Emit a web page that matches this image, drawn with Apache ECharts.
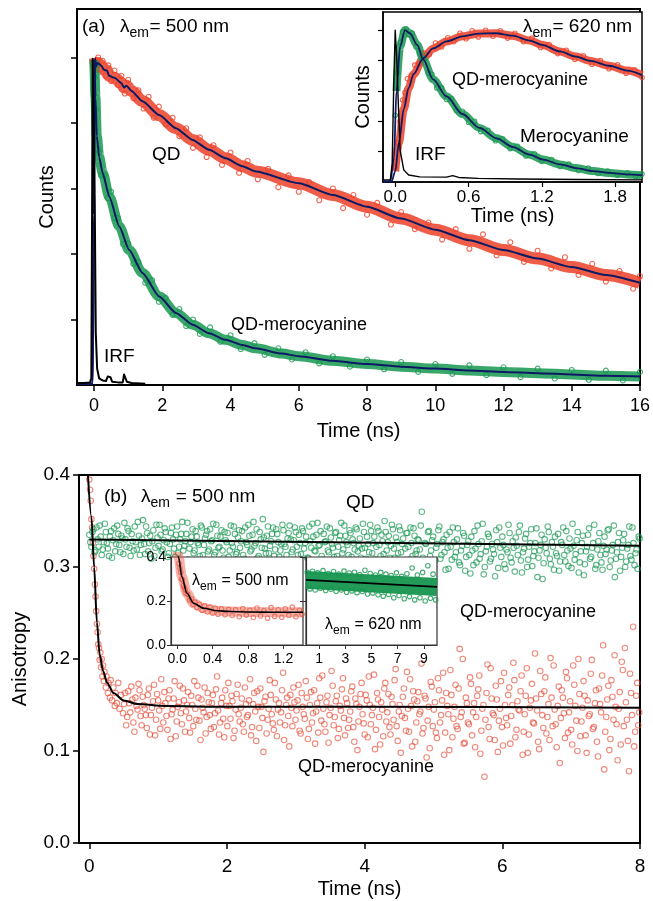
<!DOCTYPE html>
<html>
<head>
<meta charset="utf-8">
<script src="https://cdn.jsdelivr.net/npm/echarts@6/dist/echarts.min.js"></script>
<style>
html, body { margin: 0; padding: 0; background: #fff; }
#chart { width: 653px; height: 901px; }
</style>
</head>
<body>
<div id="chart"></div>
<script>
// (a) decays at 500 nm, counts in tick units (5 = peak)
const irfMain = [[-0.5,.03],[-0.3,.03],[-0.12,.04],[-0.08,.1],[-0.06,2.4],[-0.04,4.98],[-0.01,4.98],[0.02,2.8],[0.05,.8],[0.09,.25],[0.15,.1],[0.25,.07],[0.35,.06],[0.4,.13],[0.44,.15],[0.48,.12],[0.53,.05],[0.7,.04],[0.84,.04],[0.88,.16],[0.92,.15],[0.96,.05],[1.1,.03],[1.5,.02]];
const qdFit = [[-0.5,.02],[-0.04,.02],[0,2.6],[0.03,4.99],[0.06,4.86],[0.1,4.92],[0.2,4.88],[0.3,4.81],[0.38,4.8],[0.44,4.72],[0.6,4.69],[0.8,4.61],[0.88,4.54],[0.95,4.57],[1.1,4.49],[1.42,4.33],[1.91,4.12],[2.4,3.92],[2.89,3.74],[3.37,3.59],[3.86,3.46],[4.35,3.34],[4.74,3.26],[6,3.08],[7,2.9],[8,2.72],[9,2.54],[10,2.37],[11,2.21],[12,2.06],[13,1.93],[14,1.8],[15,1.68],[16,1.56]];
const qdPts = [[0.05,4.95],[0.12,5.0],[0.18,4.82],[0.25,4.95],[0.33,4.72],[0.42,4.88],[0.5,4.64],[0.6,4.8],[0.7,4.58],[0.8,4.72],[0.9,4.45],[1.0,4.66],[1.15,4.38],[1.3,4.5],[1.45,4.22],[1.6,4.4],[1.75,4.08],[1.9,4.25],[2.1,3.98],[2.3,4.08],[2.5,3.8],[2.7,3.92],[2.9,3.62],[3.1,3.78],[3.3,3.48],[3.5,3.66],[3.75,3.36],[4.0,3.55],[4.25,3.24],[4.5,3.42],[4.8,3.14],[5.1,3.3],[5.4,3.02],[5.7,3.2],[6.0,2.95],[6.3,3.1],[6.6,2.82],[7.0,3.0],[7.3,2.7],[7.6,2.9],[8.0,2.6],[8.3,2.78],[8.7,2.45],[9.0,2.64],[9.4,2.38],[9.8,2.48],[10.2,2.22],[10.6,2.38],[11.0,2.08],[11.4,2.3],[11.8,1.98],[12.2,2.18],[12.6,1.88],[13.0,2.05],[13.4,1.78],[13.8,1.95],[14.2,1.68],[14.6,1.85],[15.0,1.58],[15.4,1.74],[15.8,1.47],[16.0,1.66]];
const qdmFit = [[-0.5,.02],[-0.04,.02],[-0.01,2.6],[0.01,4.96],[0.04,4.4],[0.08,3.8],[0.15,3.48],[0.25,3.24],[0.45,2.87],[0.74,2.42],[1.03,2.06],[1.42,1.71],[1.91,1.35],[2.4,1.1],[2.89,.92],[3.37,.79],[3.86,.69],[4.35,.61],[4.74,.56],[5.5,.48],[6,.44],[7,.37],[8,.32],[9,.28],[10,.25],[11,.22],[12,.2],[13,.18],[14,.16],[15,.14],[16,.13]];
const qdmPts = [[0.02,4.7],[0.05,4.2],[0.1,3.6],[0.15,3.55],[0.2,3.2],[0.3,3.2],[0.4,2.85],[0.5,2.95],[0.6,2.55],[0.7,2.55],[0.85,2.15],[1.0,2.16],[1.15,1.85],[1.3,1.88],[1.5,1.56],[1.7,1.6],[1.9,1.27],[2.1,1.33],[2.3,1.07],[2.5,1.16],[2.7,.9],[2.9,1.0],[3.1,.78],[3.4,.88],[3.7,.66],[4.0,.76],[4.3,.55],[4.7,.64],[5.0,.46],[5.4,.56],[5.8,.39],[6.2,.5],[6.6,.33],[7.0,.44],[7.5,.28],[8.0,.39],[8.5,.24],[9.0,.35],[9.5,.2],[10.0,.32],[10.5,.17],[11.0,.3],[11.5,.15],[12,.27],[12.5,.12],[13,.25],[13.5,.1],[14,.23],[14.5,.08],[15,.22],[15.5,.07],[16,.2]];

// inset (a), 620 nm
const irfInset = [[-0.1,.07],[-0.04,.07],[-0.025,.6],[-0.012,3.2],[0,5.0],[0.012,4.1],[0.027,2.4],[0.04,1.05],[0.07,.4],[0.11,.23],[0.2,.17],[0.42,.16],[0.47,.21],[0.52,.15],[0.68,.12],[1.0,.1],[1.5,.08],[2.02,.07]];
const meroFit = [[-0.1,.02],[-0.04,.03],[-0.01,.8],[0.01,3.0],[0.04,4.47],[0.08,5.0],[0.12,4.9],[0.18,4.52],[0.23,4.03],[0.31,3.38],[0.42,2.82],[0.55,2.24],[0.69,1.78],[0.83,1.44],[0.96,1.16],[1.1,.9],[1.21,.74],[1.35,.58],[1.48,.46],[1.62,.36],[1.75,.3],[1.9,.25],[2.02,.22]];
const meroPts = [[0,2.2],[0.02,3.6],[0.04,4.6],[0.06,4.95],[0.09,5.05],[0.11,4.85],[0.14,4.9],[0.17,4.45],[0.2,4.25],[0.24,4.05],[0.27,3.6],[0.3,3.55],[0.34,3.1],[0.38,3.1],[0.42,2.72],[0.46,2.74],[0.5,2.36],[0.55,2.33],[0.6,1.97],[0.65,2.0],[0.7,1.66],[0.76,1.7],[0.82,1.36],[0.88,1.42],[0.94,1.1],[1.0,1.18],[1.07,.86],[1.14,.93],[1.2,.68],[1.28,.74],[1.35,.51],[1.42,.59],[1.5,.38],[1.58,.46],[1.66,.28],[1.74,.36],[1.82,.22],[1.9,.3],[1.97,.19],[2.02,.26]];
const qdm620Fit = [[-0.1,.02],[-0.03,.02],[0,.35],[0.03,1.3],[0.07,2.4],[0.11,3.1],[0.15,3.55],[0.23,4.08],[0.31,4.4],[0.42,4.63],[0.55,4.8],[0.69,4.89],[0.82,4.9],[0.96,4.82],[1.1,4.66],[1.2,4.52],[1.35,4.3],[1.47,4.14],[1.6,3.99],[1.75,3.83],[1.9,3.67],[2.02,3.52]];
const qdm620Pts = [[0,.5],[0.02,1.3],[0.04,2.0],[0.06,2.7],[0.08,2.95],[0.1,3.4],[0.13,3.5],[0.16,3.85],[0.2,3.9],[0.24,4.25],[0.28,4.2],[0.33,4.58],[0.38,4.45],[0.43,4.75],[0.48,4.62],[0.53,4.9],[0.58,4.72],[0.63,4.98],[0.68,4.78],[0.74,5.0],[0.8,4.8],[0.86,4.98],[0.92,4.74],[0.98,4.9],[1.05,4.62],[1.12,4.74],[1.19,4.43],[1.26,4.53],[1.33,4.23],[1.4,4.34],[1.47,4.04],[1.54,4.16],[1.61,3.88],[1.68,4.0],[1.75,3.73],[1.82,3.86],[1.89,3.58],[1.96,3.7],[2.02,3.44]];

// (b) anisotropy at 500 nm
const qdAnisFit = [[0,.330],[8,.323]];
const qdAnisPts = [[0,.335],[.03,.322],[.06,.341],[.09,.318],[.12,.33],[.15,.345],[.18,.313],[.21,.327],[.24,.338],[.27,.32],[.3,.333],[.33,.31],[.36,.342],[.39,.325],[.42,.336],[.45,.316],[.48,.331],[.51,.348],[.54,.322],[.57,.339],[.6,.312],[.63,.328],[.66,.344],[.69,.319],[.72,.334],[.75,.324],[.78,.351],[.81,.314],[.84,.337],[.87,.326],[.9,.309],[.93,.34],[.96,.321],[.99,.332],[1.02,.346],[1.05,.317],[1.08,.329],[1.11,.338],[1.14,.311],[1.17,.325],[1.2,.343],[1.23,.32],[1.26,.335],[1.29,.315],[1.32,.33],[1.35,.349],[1.38,.323],[1.41,.336],[1.44,.308],[1.47,.327],[1.5,.341],[1.53,.318],[1.56,.333],[1.59,.324],[1.62,.345],[1.65,.313],[1.68,.331],[1.71,.339],[1.74,.319],[1.77,.328],[1.8,.347],[1.83,.316],[1.86,.334],[1.89,.322],[1.92,.34],[1.95,.31],[1.98,.329],[2.01,.337],[2.04,.318],[2.07,.326],[2.1,.344],[2.13,.314],[2.16,.332],[2.19,.321],[2.22,.339],[2.25,.309],[2.28,.327],[2.31,.346],[2.34,.317],[2.37,.335],[2.4,.323],[2.43,.341],[2.46,.312],[2.49,.33],[2.52,.352],[2.55,.32],[2.58,.334],[2.61,.315],[2.64,.328],[2.67,.343],[2.7,.319],[2.73,.336],[2.76,.311],[2.79,.325],[2.82,.34],[2.85,.322],[2.88,.331],[2.91,.345],[2.94,.316],[2.97,.329],[3,.338],[3.03,.313],[3.06,.326],[3.09,.342],[3.12,.32],[3.15,.333],[3.18,.31],[3.21,.328],[3.24,.347],[3.27,.318],[3.3,.335],[3.33,.323],[3.36,.339],[3.39,.308],[3.42,.327],[3.45,.344],[3.48,.316],[3.51,.332],[3.54,.321],[3.57,.337],[3.6,.312],[3.63,.329],[3.66,.348],[3.69,.319],[3.72,.334],[3.75,.324],[3.78,.34],[3.81,.311],[3.84,.326],[3.87,.343],[3.9,.317],[3.93,.331],[3.96,.32],[3.99,.338],[4.02,.309],[4.05,.325],[4.08,.346],[4.11,.315],[4.14,.333],[4.17,.322],[4.2,.339],[4.23,.312],[4.26,.328],[4.29,.35],[4.32,.318],[4.35,.334],[4.38,.323],[4.41,.341],[4.44,.31],[4.47,.327],[4.5,.344],[4.53,.316],[4.56,.331],[4.59,.32],[4.62,.337],[4.65,.308],[4.68,.326],[4.71,.342],[4.74,.314],[4.77,.33],[4.8,.319],[4.83,.36],[4.86,.305],[4.89,.325],[4.92,.338],[4.95,.312],[4.98,.329],[5.01,.3],[5.04,.321],[5.07,.34],[5.1,.309],[5.13,.327],[5.16,.316],[5.19,.335],[5.22,.298],[5.25,.322],[5.28,.343],[5.31,.311],[5.34,.33],[5.37,.305],[5.4,.318],[5.43,.337],[5.46,.296],[5.49,.324],[5.52,.313],[5.55,.333],[5.58,.302],[5.61,.32],[5.64,.345],[5.67,.309],[5.7,.328],[5.73,.292],[5.76,.317],[5.79,.336],[5.82,.306],[5.85,.325],[5.88,.314],[5.91,.34],[5.94,.299],[5.97,.321],[6,.333],[6.03,.303],[6.06,.319],[6.09,.346],[6.12,.31],[6.15,.328],[6.18,.295],[6.21,.323],[6.24,.338],[6.27,.307],[6.3,.316],[6.33,.331],[6.36,.3],[6.39,.322],[6.42,.341],[6.45,.312],[6.48,.326],[6.51,.289],[6.54,.318],[6.57,.335],[6.6,.304],[6.63,.321],[6.66,.344],[6.69,.309],[6.72,.327],[6.75,.297],[6.78,.315],[6.81,.336],[6.84,.306],[6.87,.324],[6.9,.313],[6.93,.339],[6.96,.301],[6.99,.32],[7.02,.347],[7.05,.308],[7.08,.329],[7.11,.294],[7.14,.317],[7.17,.334],[7.2,.303],[7.23,.322],[7.26,.342],[7.29,.311],[7.32,.326],[7.35,.298],[7.38,.319],[7.41,.337],[7.44,.305],[7.47,.323],[7.5,.314],[7.53,.34],[7.56,.3],[7.59,.318],[7.62,.345],[7.65,.309],[7.68,.327],[7.71,.296],[7.74,.321],[7.77,.336],[7.8,.306],[7.83,.324],[7.86,.312],[7.89,.343],[7.92,.302],[7.95,.319],[7.98,.333],
  [.015,.327],[.045,.338],[.075,.316],[.105,.343],[.135,.322],[.165,.333],[.195,.319],[.225,.347],[.255,.326],[.285,.312],[.315,.339],[.345,.329],[.375,.317],[.405,.345],[.435,.324],[.465,.334],[.495,.314],[.525,.33],[.555,.342],[.585,.321],[.615,.336],[.645,.318],[.675,.327],[.705,.349],[.735,.313],[.765,.331],[.795,.325],[.825,.344],[.855,.317],[.885,.334],[.915,.328],[.945,.312],[.975,.346],[1.005,.323],[1.035,.335],[1.065,.319],[1.095,.342],[1.125,.327],[1.155,.315],[1.185,.337],[1.215,.33],[1.245,.311],[1.275,.344],[1.305,.322],[1.335,.336],[1.365,.318],[1.395,.328],[1.425,.348],[1.455,.32],[1.485,.333],[1.515,.315],[1.545,.339],[1.575,.326],[1.605,.312],[1.635,.343],[1.665,.324],[1.695,.335],[1.725,.317],[1.755,.341],[1.785,.329],[1.815,.313],[1.845,.346],[1.875,.321],[1.905,.333],[1.935,.318],[1.965,.338],[1.995,.327],[2.025,.311],[2.055,.345],[2.085,.322],[2.115,.336],[2.145,.316],[2.175,.34],[2.205,.328],[2.235,.313],[2.265,.343],[2.295,.324],[2.325,.334],[2.355,.319],[2.385,.349],[2.415,.326],[2.445,.31],[2.475,.338],[2.505,.321],[2.535,.332],[2.565,.315],[2.595,.344],[2.625,.323],[2.655,.336],[2.685,.312],[2.715,.341],[2.745,.327],[2.775,.318],[2.805,.346],[2.835,.325],[2.865,.313],[2.895,.337],[2.925,.33],[2.955,.319],[2.985,.343],[3.015,.322],[3.045,.335],[3.075,.314],[3.105,.339],[3.135,.326],[3.165,.31],[3.195,.344],[3.225,.321],[3.255,.333],[3.285,.317],[3.315,.348],[3.345,.324],[3.375,.312],[3.405,.336],[3.435,.328],[3.465,.318],[3.495,.342],[3.525,.325],[3.555,.311],[3.585,.338],[3.615,.322],[3.645,.334],[3.675,.315],[3.705,.345],[3.735,.327],[3.765,.313],[3.795,.337],[3.825,.33],[3.855,.319],[3.885,.341],[3.915,.323],[3.945,.31],[3.975,.347],[4.005,.321],[4.035,.333],[4.065,.316],[4.095,.339],[4.125,.326],[4.155,.308],[4.185,.343],[4.215,.324],[4.245,.335],[4.275,.314],[4.305,.338],[4.335,.327],[4.365,.31],[4.395,.346],[4.425,.32],[4.455,.332],[4.485,.315],[4.515,.34],[4.545,.325],[4.575,.306],[4.605,.337],[4.635,.322],[4.665,.343],[4.695,.312],[4.725,.334],[4.755,.318],[4.785,.329],[4.815,.345],[4.845,.31],[4.875,.326],[4.905,.3],[4.935,.339],[4.965,.318],[4.995,.333],[5.025,.307],[5.055,.325],[5.085,.344],[5.115,.313],[5.145,.33],[5.175,.297],[5.205,.321],[5.235,.338],[5.265,.308],[5.295,.327],[5.325,.316],[5.355,.342],[5.385,.302],[5.415,.323],[5.445,.334],[5.475,.311],[5.505,.328],[5.535,.293],[5.565,.318],[5.595,.339],[5.625,.305],[5.655,.325],[5.685,.314],[5.715,.347],[5.745,.3],[5.775,.322],[5.805,.333],[5.835,.309],[5.865,.319],[5.895,.29],[5.925,.327],[5.955,.343],[5.985,.311],[6.015,.324],[6.045,.298],[6.075,.316],[6.105,.337],[6.135,.305],[6.165,.321],[6.195,.332],[6.225,.313],[6.255,.345],[6.285,.294],[6.315,.32],[6.345,.336],[6.375,.308],[6.405,.326],[6.435,.301],[6.465,.317],[6.495,.342],[6.525,.31],[6.555,.324],[6.585,.287],[6.615,.33],[6.645,.315],[6.675,.338],[6.705,.303],[6.735,.322],[6.765,.333],[6.795,.312],[6.825,.296],[6.855,.327],[6.885,.343],[6.915,.306],[6.945,.318],[6.975,.331],[7.005,.299],[7.035,.323],[7.065,.314],[7.095,.338],[7.125,.305],[7.155,.326],[7.185,.291],[7.215,.317],[7.245,.335],[7.275,.309],[7.305,.321],[7.335,.346],[7.365,.302],[7.395,.328],[7.425,.313],[7.455,.297],[7.485,.333],[7.515,.319],[7.545,.341],[7.575,.307],[7.605,.324],[7.635,.289],[7.665,.316],[7.695,.337],[7.725,.311],[7.755,.329],[7.785,.3],[7.815,.32],[7.845,.344],[7.875,.308],[7.905,.326],[7.935,.315],[7.965,.298],[7.995,.331]];
const qdmAnisFit = [[-0.02,.4],[0.03,.355],[0.07,.3],[0.11,.24],[0.15,.205],[0.2,.187],[0.26,.174],[0.35,.163],[0.5,.155],[0.7,.151],[1.1,.149],[2,.148],[4,.148],[8,.147]];
const qdmAnisPts = [[0,.395],[.01,.384],[.02,.372],[.03,.352],[.04,.343],[.05,.326],[.06,.312],[.07,.298],[.08,.281],[.09,.268],[.1,.252],[.11,.238],[.12,.229],[.13,.216],[.14,.212],[.15,.199],[.16,.207],[.17,.191],[.18,.2],[.19,.181],[.2,.193],[.21,.176],[.22,.186],[.24,.169],[.25,.181],[.27,.163],[.28,.174],[.3,.158],[.31,.177],[.33,.155],[.35,.169],[.37,.149],[.38,.163],[.4,.152],[.42,.174],[.44,.146],[.46,.161],[.49,.141],[.52,.163],[.55,.137],[.58,.152],[.61,.17],[.64,.131],[.67,.158],[.7,.145],[.73,.166],[.76,.128],[.79,.15],[.82,.139],[.85,.161],[.88,.118],[.91,.147],[.94,.172],[.97,.134],[1,.155],[1.03,.124],[1.06,.149],[1.09,.164],[1.12,.138],[1.15,.157],[1.18,.113],[1.21,.145],[1.24,.176],[1.27,.132],[1.3,.153],[1.33,.141],[1.36,.168],[1.39,.121],[1.42,.15],[1.45,.136],[1.48,.16],[1.51,.127],[1.54,.146],[1.57,.171],[1.6,.133],[1.63,.156],[1.66,.142],[1.69,.119],[1.72,.163],[1.75,.139],[1.78,.152],[1.81,.126],[1.84,.167],[1.87,.144],[1.9,.131],[1.93,.158],[1.96,.115],[1.99,.149],[2.02,.174],[2.05,.135],[2.08,.154],[2.11,.122],[2.14,.162],[2.17,.14],[2.2,.147],[2.23,.129],[2.26,.169],[2.29,.137],[2.32,.155],[2.35,.117],[2.38,.151],[2.41,.143],[2.44,.165],[2.47,.125],[2.5,.148],[2.53,.099],[2.56,.159],[2.59,.134],[2.62,.177],[2.65,.14],[2.68,.123],[2.71,.156],[2.74,.145],[2.77,.131],[2.8,.166],[2.83,.112],[2.86,.15],[2.89,.138],[2.92,.161],[2.95,.127],[2.98,.153],[3.01,.144],[3.04,.172],[3.07,.119],[3.1,.148],[3.13,.135],[3.16,.158],[3.19,.124],[3.22,.164],[3.25,.141],[3.28,.108],[3.31,.152],[3.34,.179],[3.37,.133],[3.4,.146],[3.43,.121],[3.46,.16],[3.49,.139],[3.52,.187],[3.55,.128],[3.58,.154],[3.61,.114],[3.64,.149],[3.67,.167],[3.7,.136],[3.73,.157],[3.76,.125],[3.79,.143],[3.82,.17],[3.85,.11],[3.88,.151],[3.91,.132],[3.94,.162],[3.97,.14],[4,.118],[4.03,.155],[4.06,.181],[4.09,.129],[4.12,.147],[4.15,.102],[4.18,.163],[4.21,.137],[4.24,.153],[4.27,.116],[4.3,.174],[4.33,.142],[4.36,.126],[4.39,.159],[4.42,.134],[4.45,.189],[4.48,.111],[4.51,.15],[4.54,.138],[4.57,.168],[4.6,.122],[4.63,.146],[4.66,.178],[4.69,.105],[4.72,.156],[4.75,.131],[4.78,.164],[4.81,.143],[4.84,.119],[4.87,.16],[4.9,.093],[4.93,.148],[4.96,.175],[4.99,.127],[5.02,.153],[5.05,.114],[5.08,.166],[5.11,.139],[5.14,.185],[5.17,.12],[5.2,.149],[5.23,.101],[5.26,.161],[5.29,.135],[5.32,.172],[5.35,.124],[5.38,.211],[5.41,.142],[5.44,.108],[5.47,.158],[5.5,.131],[5.53,.18],[5.56,.117],[5.59,.152],[5.62,.137],[5.65,.167],[5.68,.097],[5.71,.146],[5.74,.072],[5.77,.163],[5.8,.126],[5.83,.19],[5.86,.141],[5.89,.112],[5.92,.156],[5.95,.133],[5.98,.176],[6.01,.106],[6.04,.15],[6.07,.128],[6.1,.169],[6.13,.138],[6.16,.196],[6.19,.115],[6.22,.154],[6.25,.144],[6.28,.182],[6.31,.121],[6.34,.16],[6.37,.098],[6.4,.147],[6.43,.173],[6.46,.13],[6.49,.157],[6.52,.11],[6.55,.187],[6.58,.139],[6.61,.165],[6.64,.119],[6.67,.151],[6.7,.201],[6.73,.127],[6.76,.145],[6.79,.104],[6.82,.17],[6.85,.136],[6.88,.158],[6.91,.114],[6.94,.179],[6.97,.142],[7,.123],[7.03,.193],[7.06,.149],[7.09,.1],[7.12,.162],[7.15,.132],[7.18,.176],[7.21,.117],[7.24,.155],[7.27,.14],[7.3,.199],[7.33,.126],[7.36,.166],[7.39,.094],[7.42,.151],[7.45,.182],[7.48,.08],[7.51,.137],[7.54,.171],[7.57,.113],[7.6,.159],[7.63,.204],[7.66,.129],[7.69,.146],[7.72,.107],[7.75,.188],[7.78,.212],[7.81,.134],[7.84,.078],[7.87,.163],[7.9,.235],[7.93,.121],[7.96,.174],[7.99,.142],
  [.505,.151],[.535,.128],[.565,.165],[.595,.142],[.625,.156],[.655,.121],[.685,.149],[.715,.173],[.745,.138],[.775,.159],[.805,.146],[.835,.125],[.865,.168],[.895,.139],[.925,.154],[.955,.117],[.985,.162],[1.015,.144],[1.045,.178],[1.075,.131],[1.105,.152],[1.135,.123],[1.165,.166],[1.195,.14],[1.225,.157],[1.255,.116],[1.285,.148],[1.315,.171],[1.345,.129],[1.375,.155],[1.405,.143],[1.435,.164],[1.465,.12],[1.495,.15],[1.525,.176],[1.555,.134],[1.585,.158],[1.615,.112],[1.645,.147],[1.675,.169],[1.705,.137],[1.735,.153],[1.765,.124],[1.795,.161],[1.825,.141],[1.855,.181],[1.885,.118],[1.915,.152],[1.945,.135],[1.975,.166],[2.005,.127],[2.035,.149],[2.065,.16],[2.095,.114],[2.125,.145],[2.155,.172],[2.185,.132],[2.215,.157],[2.245,.121],[2.275,.151],[2.305,.139],[2.335,.178],[2.365,.126],[2.395,.163],[2.425,.111],[2.455,.148],[2.485,.168],[2.515,.136],[2.545,.154],[2.575,.119],[2.605,.146],[2.635,.161],[2.665,.13],[2.695,.174],[2.725,.116],[2.755,.152],[2.785,.142],[2.815,.185],[2.845,.128],[2.875,.158],[2.905,.105],[2.935,.147],[2.965,.169],[2.995,.134],[3.025,.155],[3.055,.122],[3.085,.163],[3.115,.14],[3.145,.176],[3.175,.113],[3.205,.15],[3.235,.131],[3.265,.166],[3.295,.143],[3.325,.12],[3.355,.158],[3.385,.182],[3.415,.129],[3.445,.153],[3.475,.109],[3.505,.147],[3.535,.171],[3.565,.137],[3.595,.16],[3.625,.124],[3.655,.144],[3.685,.179],[3.715,.117],[3.745,.152],[3.775,.134],[3.805,.165],[3.835,.126],[3.865,.157],[3.895,.101],[3.925,.148],[3.955,.174],[3.985,.13],[4.015,.161],[4.045,.115],[4.075,.15],[4.105,.139],[4.135,.183],[4.165,.123],[4.195,.156],[4.225,.107],[4.255,.145],[4.285,.168],[4.315,.132],[4.345,.162],[4.375,.118],[4.405,.151],[4.435,.177],[4.465,.127],[4.495,.143],[4.525,.098],[4.555,.159],[4.585,.136],[4.615,.186],[4.645,.121],[4.675,.149],[4.705,.165],[4.735,.11],[4.765,.154],[4.795,.14],[4.825,.195],[4.855,.125],[4.885,.157],[4.915,.133],[4.945,.103],[4.975,.17],[5.005,.145],[5.035,.12],[5.065,.179],[5.095,.131],[5.125,.155],[5.155,.096],[5.185,.163],[5.215,.14],[5.245,.188],[5.275,.115],[5.305,.148],[5.335,.127],[5.365,.168],[5.395,.137],[5.425,.2],[5.455,.109],[5.485,.152],[5.515,.129],[5.545,.173],[5.575,.142],[5.605,.104],[5.635,.16],[5.665,.182],[5.695,.122],[5.725,.15],[5.755,.134],[5.785,.194],[5.815,.113],[5.845,.157],[5.875,.139],[5.905,.171],[5.935,.099],[5.965,.146],[5.995,.126],[6.025,.185],[6.055,.136],[6.085,.161],[6.115,.108],[6.145,.15],[6.175,.177],[6.205,.123],[6.235,.145],[6.265,.165],[6.295,.096],[6.325,.14],[6.355,.19],[6.385,.118],[6.415,.155],[6.445,.131],[6.475,.206],[6.505,.144],[6.535,.102],[6.565,.162],[6.595,.125],[6.625,.18],[6.655,.137],[6.685,.112],[6.715,.158],[6.745,.193],[6.775,.129],[6.805,.149],[6.835,.087],[6.865,.166],[6.895,.141],[6.925,.186],[6.955,.12],[6.985,.154],[7.015,.107],[7.045,.172],[7.075,.133],[7.105,.2],[7.135,.116],[7.165,.147],[7.195,.16],[7.225,.098],[7.255,.138],[7.285,.184],[7.315,.124],[7.345,.152],[7.375,.11],[7.405,.168],[7.435,.142],[7.465,.215],[7.495,.121],[7.525,.156],[7.555,.101],[7.585,.177],[7.615,.134],[7.645,.148],[7.675,.09],[7.705,.164],[7.735,.197],[7.765,.127],[7.795,.153],[7.825,.111],[7.855,.184],[7.885,.139],[7.915,.105],[7.945,.16],[7.975,.128]];

// inset (b): 500 nm (left), 620 nm (right)
const insRedFit = [[0,.43],[0.015,.4],[0.053,.31],[0.11,.235],[0.184,.19],[0.3,.167],[0.45,.156],[0.6,.152],[0.82,.15],[1.1,.149],[1.42,.149]];
const insRedPts = [[0.01,.41],[0.02,.37],[0.03,.35],[0.04,.33],[0.05,.3],[0.06,.295],[0.07,.27],[0.08,.26],[0.09,.25],[0.1,.235],[0.12,.23],[0.14,.205],[0.16,.21],[0.18,.185],[0.2,.195],[0.22,.17],[0.25,.185],[0.28,.158],[0.31,.178],[0.34,.15],[0.37,.172],[0.4,.145],[0.43,.167],[0.46,.14],[0.5,.165],[0.54,.138],[0.58,.162],[0.62,.134],[0.66,.16],[0.7,.128],[0.74,.166],[0.78,.136],[0.82,.158],[0.86,.125],[0.9,.168],[0.94,.132],[0.98,.156],[1.02,.122],[1.06,.17],[1.1,.13],[1.14,.16],[1.18,.126],[1.22,.165],[1.26,.135],[1.3,.172],[1.34,.128],[1.38,.158],[1.41,.14]];
const insGreenFit = [[0,.296],[10,.264]];
const insGreenPts = [[0.1,.33],[0.3,.255],[0.5,.335],[0.7,.25],[0.9,.328],[1.1,.258],[1.3,.338],[1.5,.248],[1.7,.325],[1.9,.253],[2.1,.334],[2.3,.244],[2.5,.322],[2.7,.25],[2.9,.336],[3.1,.24],[3.3,.327],[3.5,.246],[3.7,.331],[3.9,.238],[4.1,.32],[4.3,.243],[4.5,.34],[4.7,.232],[4.9,.325],[5.1,.236],[5.3,.318],[5.5,.228],[5.7,.33],[5.9,.222],[6.1,.322],[6.3,.23],[6.5,.316],[6.7,.215],[6.9,.328],[7.1,.225],[7.3,.312],[7.5,.21],[7.7,.324],[7.9,.22],[8.1,.35],[8.3,.205],[8.5,.318],[8.7,.215],[8.9,.33],[9.1,.2],[9.3,.36],[9.5,.212],[9.7,.322],[9.9,.205]];

// tick positions
const ticksA = [0, 2, 4, 6, 8, 10, 12, 14, 16];
const ticksCounts = [1, 2, 3, 4, 5];
const ticksInsetA = [0, 0.6, 1.2, 1.8];
const ticksB = [0, 2, 4, 6, 8];
const ticksInsetB1 = [0, 0.4, 0.8, 1.2];
const ticksInsetB2 = [1, 3, 5, 7, 9];

const FONT = 'Liberation Sans, Arial, Helvetica, sans-serif';
const RED = 'rgb(236,64,40)';
const GREEN = 'rgb(22,150,80)';
const NAVY = '#0b1a62';
const fix1 = v => v.toFixed(1);

function axis(grid, o) {
  const c = o.color || '#000';
  return {
    type: 'value', gridIndex: grid, min: o.min, max: o.max, interval: o.interval,
    z: o.z || 0,
    axisLine: {show: true, onZero: false, lineStyle: {color: c, width: o.lw || 2}},
    axisTick: {show: true, length: o.tl || 6, customValues: o.ticks, lineStyle: {color: c, width: o.tw || 1.5}},
    axisLabel: {show: o.labels !== false, customValues: o.ticks, fontSize: o.fs || 18, color: '#000',
      fontFamily: FONT, margin: o.margin || 8, formatter: o.fmt},
    splitLine: {show: false},
    name: o.name, nameLocation: 'middle', nameGap: o.nameGap,
    nameTextStyle: {fontSize: 20, color: '#000', fontFamily: FONT},
  };
}

function line(ix, data, color, width, z, smooth) {
  return {type: 'line', xAxisIndex: ix, yAxisIndex: ix, data, symbol: 'none', z, silent: true,
    smooth: smooth || false, smoothMonotone: 'x',
    lineStyle: {color, width, cap: 'butt', join: 'round'}};
}

function dots(ix, data, color, size, z) {
  return {type: 'scatter', xAxisIndex: ix, yAxisIndex: ix, data, symbol: 'circle', symbolSize: size, z, silent: true,
    itemStyle: {color: 'rgba(255,255,255,0)', borderColor: color, borderWidth: 1.1}};
}

function txt(x, y, s, fs) {
  return {type: 'text', x, y, z: 100, silent: true,
    style: {text: s, fontSize: fs || 19, fontFamily: FONT, fill: '#000',
      align: 'left', verticalAlign: 'middle', textAlign: 'left', textVerticalAlign: 'middle'}};
}

// lambda with "em" subscript
function lam(x, y, fs, rest) {
  const sub = Math.round(fs * 0.74);
  const sx = x + fs * 0.5;
  return [txt(x, y, 'λ', fs), txt(sx, y + fs * 0.33, 'em', sub), txt(sx + sub * 1.42, y, rest, fs)];
}

const chart = echarts.init(document.getElementById('chart'), null, {renderer: 'canvas'});

const option = {
  backgroundColor: '#fff',
  animation: false,
  grid: [
    {left: 77, top: 9, width: 565, height: 376, show: true, borderColor: '#000', borderWidth: 2, z: 0},
    {left: 383, top: 12, width: 259, height: 170, show: true, borderColor: '#000', borderWidth: 1.5, backgroundColor: '#fff', z: 10},
    {left: 79, top: 475, width: 561, height: 368, show: true, borderColor: '#000', borderWidth: 2, z: 0},
    {left: 171, top: 557, width: 132, height: 88, show: true, borderColor: '#333', borderWidth: 1.2, backgroundColor: '#fff', z: 10},
    {left: 306, top: 557, width: 131, height: 88, show: true, borderColor: '#333', borderWidth: 1.2, backgroundColor: '#fff', z: 10},
  ],
  xAxis: [
    axis(0, {min: -0.5, max: 16, ticks: ticksA, fs: 18, margin: 12, name: 'Time (ns)', nameGap: 36}),
    axis(1, {min: -0.1, max: 2.02, ticks: ticksInsetA, fs: 17, lw: 1.5, tw: 1.2, tl: 5, margin: 7, fmt: fix1,
      name: 'Time (ns)', nameGap: 24, z: 11}),
    axis(2, {min: -0.15, max: 8, ticks: ticksB, fs: 19, margin: 14, name: 'Time (ns)', nameGap: 36}),
    axis(3, {min: -0.07, max: 1.42, ticks: ticksInsetB1, fs: 14, lw: 1.2, tw: 1, tl: 4, margin: 7, fmt: fix1, color: '#333', z: 11}),
    axis(4, {min: 0, max: 10, ticks: ticksInsetB2, fs: 14, lw: 1.2, tw: 1, tl: 4, margin: 7, color: '#333', z: 11}),
  ],
  yAxis: [
    axis(0, {min: 0, max: 5.74, ticks: ticksCounts, labels: false, name: 'Counts', nameGap: 20}),
    axis(1, {min: 0, max: 5.6, ticks: ticksCounts, labels: false, lw: 1.5, tw: 1.2, tl: 5, name: 'Counts', nameGap: 10, z: 11}),
    axis(2, {min: 0, max: 0.4, interval: 0.1, fs: 19, margin: 9, fmt: fix1, name: 'Anisotropy', nameGap: 49}),
    axis(3, {min: 0, max: 0.4, interval: 0.2, fs: 14, lw: 1.2, tw: 1, tl: 4, margin: 5, fmt: fix1, color: '#333', z: 11}),
    axis(4, {min: 0, max: 0.4, interval: 0.2, labels: false, lw: 1.2, tw: 1, tl: 0, color: '#333', z: 11}),
  ],
  series: [
    // (a) main
    line(0, qdFit.filter(p => p[0] >= 0.03), 'rgba(236,64,40,0.85)', 12, 2, 0.3),
    line(0, qdmFit.filter(p => p[0] >= 0.01), 'rgba(22,150,80,0.85)', 10, 2, 0.3),
    dots(0, qdPts, RED, 5, 3),
    dots(0, qdmPts, GREEN, 5, 3),
    line(0, qdFit, NAVY, 2, 4, 0.2),
    line(0, qdmFit, NAVY, 2, 4, 0.2),
    line(0, irfMain, '#000', 2, 5),
    // (a) inset
    line(1, qdm620Fit.filter(p => p[0] >= 0), 'rgba(236,64,40,0.85)', 8, 12, 0.3),
    line(1, meroFit.filter(p => p[0] >= 0), 'rgba(22,150,80,0.85)', 8, 12, 0.3),
    dots(1, qdm620Pts, RED, 4.5, 13),
    dots(1, meroPts, GREEN, 4.5, 13),
    line(1, qdm620Fit, NAVY, 1.8, 14, 0.3),
    line(1, meroFit, NAVY, 1.8, 14, 0.3),
    line(1, irfInset, '#000', 1.4, 15),
    // (b) main
    dots(2, qdmAnisPts, 'rgba(228,70,48,0.8)', 5.5, 3),
    dots(2, qdAnisPts, 'rgba(22,150,80,0.85)', 5.5, 3),
    line(2, qdmAnisFit, '#000', 2, 4, 0.3),
    line(2, qdAnisFit, '#000', 2, 4),
    // (b) inset
    line(3, insRedFit, 'rgba(236,80,60,0.45)', 10, 12, 0.3),
    dots(3, insRedPts, 'rgba(232,80,58,0.85)', 4.5, 13),
    line(3, insRedFit, '#000', 1.6, 14, 0.3),
    line(4, insGreenFit, 'rgba(22,150,80,0.95)', 18, 12),
    dots(4, insGreenPts, GREEN, 4.5, 13),
    line(4, insGreenFit, '#000', 1.6, 14),
  ],
  graphic: [
    txt(82, 27, '(a)', 19),
    ...lam(120, 27, 19, '= 500 nm'),
    txt(152, 155, 'QD', 19),
    txt(231, 325, 'QD-merocyanine', 18),
    txt(104, 357, 'IRF', 19),
    ...lam(523, 27, 19, '= 620 nm'),
    txt(452, 80, 'QD-merocyanine', 18),
    txt(520, 137, 'Merocyanine', 19),
    txt(415, 155, 'IRF', 19),
    txt(104, 497, '(b)', 19),
    ...lam(141, 497, 19, ' = 500 nm'),
    txt(346, 503, 'QD', 19),
    txt(460, 612, 'QD-merocyanine', 18),
    txt(298, 767, 'QD-merocyanine', 18),
    ...lam(192, 581, 16, ' = 500 nm'),
    ...lam(325, 625, 16, ' = 620 nm'),
  ],
};

chart.setOption(option);
</script>
</body>
</html>
